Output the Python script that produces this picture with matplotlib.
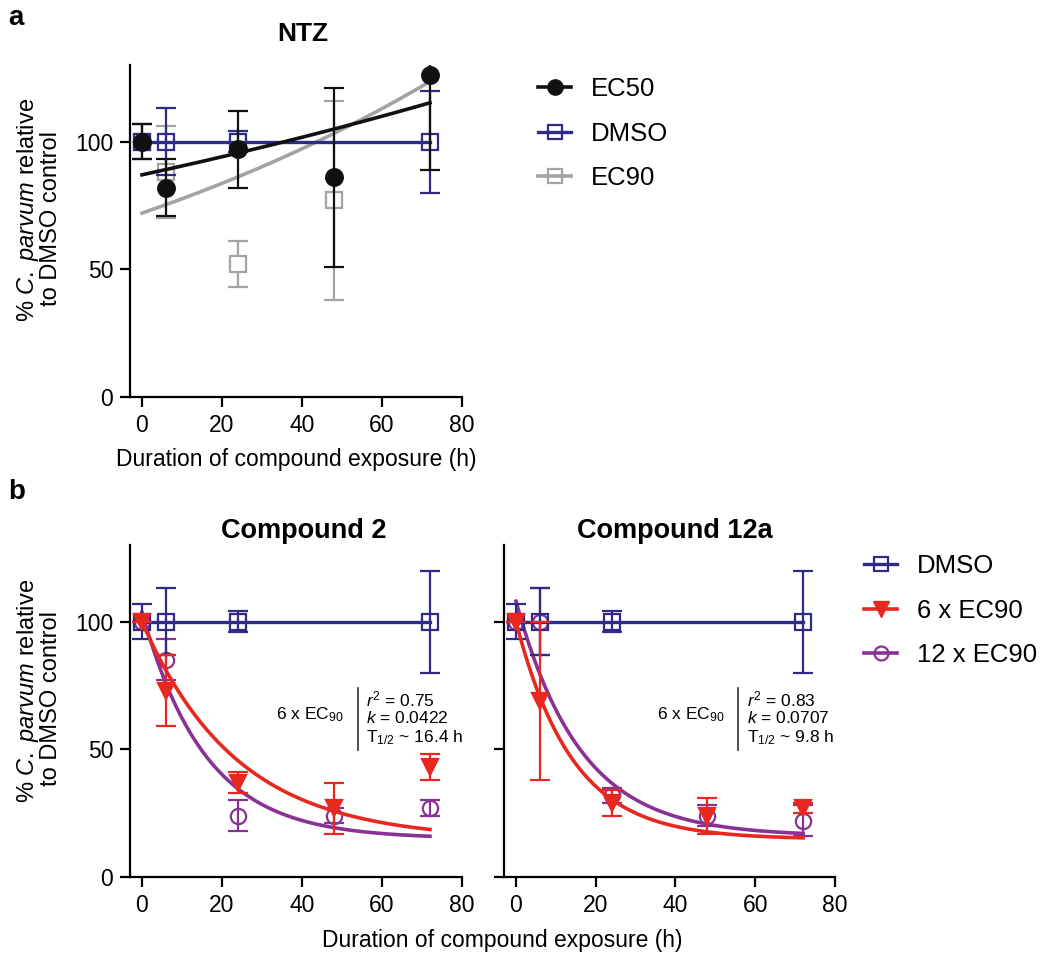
import numpy as np
import matplotlib.pyplot as plt
from matplotlib.lines import Line2D

plt.rcParams['font.family'] = ['Liberation Sans', 'DejaVu Sans']
plt.rcParams['mathtext.fontset'] = 'custom'
plt.rcParams['mathtext.rm'] = 'Liberation Sans'
plt.rcParams['mathtext.it'] = 'Liberation Sans:italic'
plt.rcParams['mathtext.bf'] = 'Liberation Sans:bold'

# ---- data ----
time_h = [0, 6, 24, 48, 72]

# panel a: NTZ
ntz_ec50_mean = [100, 82, 97, 86, 126]
ntz_ec50_err = [7, 11, 15, 35, 37]
ntz_ec90_time = [0, 6, 24, 48]
ntz_ec90_mean = [100, 88, 52, 77]
ntz_ec90_err = [0, 18, 9, 39]
# fitted growth curves: y0 * exp(k t)
ntz_ec50_fit = (87, 0.0039)
ntz_ec90_fit = (72, 0.0075)

# DMSO control (shared)
dmso_time = [0, 6, 24, 72]
dmso_mean = [100, 100, 100, 100]
dmso_err = [7, 13, 4, 20]

# panel b: compound 2
c2_6x_mean = [100, 73, 37, 27, 43]
c2_6x_err = [0, 14, 4, 10, 5]
c2_12x_mean = [100, 85, 24, 24, 27]
c2_12x_err = [0, 8, 6, 3, 3]
# one-phase decay fits: (Y0, plateau, k)
c2_6x_fit = (100, 14.5, 0.0422)
c2_12x_fit = (103.6, 15, 0.063)

# panel b: compound 12a
c12a_6x_mean = [100, 69, 29, 24, 27]
c12a_6x_err = [0, 31, 5, 7, 2]
c12a_12x_mean = [100, 100, 32, 24, 22]
c12a_12x_err = [0, 13, 3, 4, 6]
c12a_6x_fit = (100, 14.8, 0.0707)
c12a_12x_fit = (108, 16, 0.062)

c2_stats = ['0.75', '0.0422', '16.4']
c12a_stats = ['0.83', '0.0707', '9.8']

NAVY = '#2f2a86'
RED = '#e8281f'
PURPLE = '#8a3196'
GRAY = '#a3a3a3'
BLACK = '#111111'

W, H = 1050, 957
fig = plt.figure(figsize=(W / 100, H / 100), dpi=100)


def axes_px(left, top, right, bottom):
    return fig.add_axes([left / W, 1 - bottom / H, (right - left) / W, (bottom - top) / H])


def style(ax, ylabels=True):
    ax.set_xlim(-3, 80)
    ax.set_ylim(0, 130)
    ax.set_xticks([0, 20, 40, 60, 80])
    ax.set_yticks([0, 50, 100])
    if not ylabels:
        ax.set_yticklabels([])
    for s in ['top', 'right']:
        ax.spines[s].set_visible(False)
    for s in ['left', 'bottom']:
        ax.spines[s].set_linewidth(1.6)
    ax.tick_params(length=7, width=1.6, labelsize=16.5, pad=5)
    ax.patch.set_alpha(0)


def errpts(ax, x, y, e, color, marker, mfc, ms, z):
    ax.errorbar(x, y, yerr=e, fmt=marker, color=color, mfc=mfc, mec=color,
                ms=ms, mew=1.6, elinewidth=1.6, capsize=7, capthick=1.6,
                zorder=z)


tt = np.linspace(0, 72, 200)


def ylab_px(yc):
    # two-line y label placed in figure pixels
    fig.text(28 / W, 1 - (yc - 2) / H, '% $\\it{C.\\ parvum}$ relative', fontsize=17,
             rotation=90, ha='center', va='center')
    fig.text(51 / W, 1 - (yc + 6) / H, 'to DMSO control', fontsize=17,
             rotation=90, ha='center', va='center')


# ---- panel a ----
ax = axes_px(130, 65, 462, 397)
style(ax)
ax.plot(tt, ntz_ec90_fit[0] * np.exp(ntz_ec90_fit[1] * tt), color=GRAY, lw=2.6, zorder=2)
ax.plot(tt, ntz_ec50_fit[0] * np.exp(ntz_ec50_fit[1] * tt), color=BLACK, lw=2.6, zorder=4)
ax.plot(dmso_time, dmso_mean, color=NAVY, lw=2.4, zorder=3)
errpts(ax, ntz_ec90_time, ntz_ec90_mean, ntz_ec90_err, GRAY, 's', 'white', 11, 2)
errpts(ax, dmso_time, dmso_mean, dmso_err, NAVY, 's', 'none', 11, 3)
errpts(ax, time_h, ntz_ec50_mean, ntz_ec50_err, BLACK, 'o', BLACK, 12, 5)
ax.set_title('NTZ', fontsize=19, fontweight='bold', pad=17, x=0.521)
ax.set_xlabel('Duration of compound exposure (h)', fontsize=16.5, labelpad=8)
ylab_px(212)

leg_kw = dict(loc='upper left', frameon=False, fontsize=18.5, handlelength=1.3,
              handletextpad=0.75, labelspacing=0.8, borderaxespad=0, borderpad=0)

fig.legend(handles=[
    Line2D([], [], color=BLACK, lw=2.6, marker='o', ms=11, mfc=BLACK),
    Line2D([], [], color=NAVY, lw=2.4, marker='s', ms=10, mfc='none', mew=1.6),
    Line2D([], [], color=GRAY, lw=2.6, marker='s', ms=10, mfc='none', mew=1.6)],
    labels=['EC50', 'DMSO', 'EC90'], bbox_to_anchor=(538 / W, 1 - 77 / H), **leg_kw)


def decay(fit):
    y0, p, k = fit
    return p + (y0 - p) * np.exp(-k * tt)


def panel_b(ax, m6, e6, m12, e12, f6, f12, title, stats, xl, ylabels, tx):
    style(ax, ylabels)
    ax.plot(dmso_time, dmso_mean, color=NAVY, lw=2.4, zorder=3)
    ax.plot(tt, decay(f12), color=PURPLE, lw=2.6, zorder=2)
    ax.plot(tt, decay(f6), color=RED, lw=2.6, zorder=4)
    errpts(ax, dmso_time, dmso_mean, dmso_err, NAVY, 's', 'none', 11, 3)
    errpts(ax, time_h, m12, e12, PURPLE, 'o', 'none', 11, 2)
    errpts(ax, time_h, m6, e6, RED, 'v', RED, 11, 5)
    ax.set_title(title, fontsize=19.5, fontweight='bold', pad=5, x=tx)
    # fit statistics block
    ax.text(xl, 63.5, '6 x EC$_{90}$', fontsize=12.5, ha='right', va='center')
    ax.plot([xl + 3.6, xl + 3.6], [49.8, 74.1], color='#333333', lw=1.2)
    ax.text(xl + 5.8, 69.6, '$\\it{r}^{2}$ = ' + stats[0], fontsize=12.5, va='center')
    ax.text(xl + 5.8, 62.2, '$\\it{k}$ = ' + stats[1], fontsize=12.5, va='center')
    ax.text(xl + 5.8, 54.7, 'T$_{1/2}$ ~ ' + stats[2] + ' h', fontsize=12.5, va='center')


ax_b1 = axes_px(130, 545, 462, 877)
panel_b(ax_b1, c2_6x_mean, c2_6x_err, c2_12x_mean, c2_12x_err, c2_6x_fit, c2_12x_fit,
        'Compound 2', c2_stats, 50.3, True, 0.524)
ylab_px(693)

ax_b2 = axes_px(504, 545, 835, 877)
panel_b(ax_b2, c12a_6x_mean, c12a_6x_err, c12a_12x_mean, c12a_12x_err, c12a_6x_fit,
        c12a_12x_fit, 'Compound 12a', c12a_stats, 52.2, False, 0.517)

fig.text(502 / W, 1 - 940 / H, 'Duration of compound exposure (h)', fontsize=16.5,
         ha='center', va='center')

fig.legend(handles=[
    Line2D([], [], color=NAVY, lw=2.4, marker='s', ms=10, mfc='none', mew=1.6),
    Line2D([], [], color=RED, lw=2.6, marker='v', ms=11, mfc=RED),
    Line2D([], [], color=PURPLE, lw=2.6, marker='o', ms=10, mfc='none', mew=1.6)],
    labels=['DMSO', '6 x EC90', '12 x EC90'], bbox_to_anchor=(864 / W, 1 - 554 / H),
    **leg_kw)

fig.text(8 / W, 1 - 18 / H, 'a', fontsize=20, fontweight='bold', va='center')
fig.text(8 / W, 1 - 492 / H, 'b', fontsize=20, fontweight='bold', va='center')

fig.savefig('out.png', dpi=100)
